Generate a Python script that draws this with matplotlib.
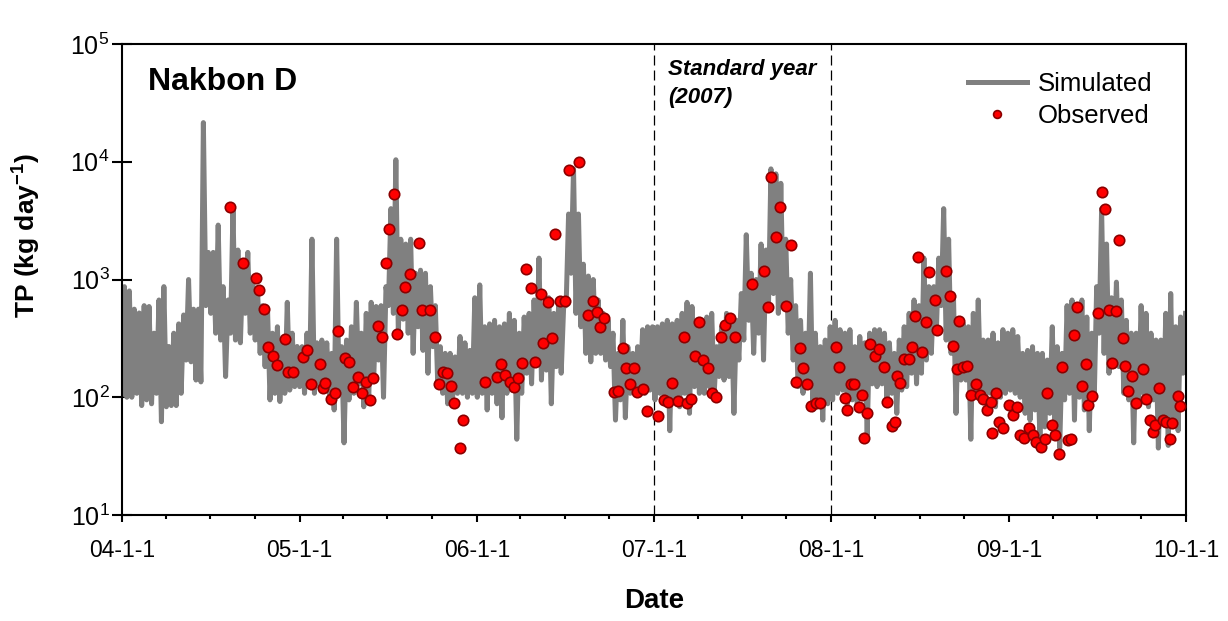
import matplotlib
matplotlib.use("Agg")
import matplotlib.pyplot as plt
import matplotlib.dates as mdates
import matplotlib.ticker as mticker
import numpy as np
import pandas as pd

plt.rcParams["font.family"] = ["Liberation Sans", "DejaVu Sans"]
plt.rcParams["mathtext.fontset"] = "custom"
plt.rcParams["mathtext.rm"] = "Liberation Sans"
plt.rcParams["mathtext.it"] = "Liberation Sans:italic"
plt.rcParams["mathtext.bf"] = "Liberation Sans:bold"

# simulated TP (kg/day), read off the chart as low/high pairs, ~10 days apart
sim_2004 = [106, 870, 100, 800, 100, 560, 108, 520, 85, 600, 95, 590, 88, 350, 108, 670,
            62, 870, 83, 270, 85, 350, 85, 420, 108, 500, 207, 1000, 200, 560, 140, 560,
            135, 21500, 600, 1700, 516, 1700, 350, 2900, 306, 870, 150, 670, 350, 4000,
            306, 1780, 290, 1285, 516, 1700, 350, 1000, 306, 760, 236, 600, 182, 560,
            95, 350, 108, 397, 92, 306, 108, 640, 115, 350, 123, 270]
sim_2005 = [123, 269, 108, 350, 123, 2200, 108, 290, 123, 306, 115, 290, 108, 236, 78, 2200,
            108, 269, 41, 306, 95, 397, 108, 640, 130, 350, 83, 516, 95, 640, 140, 590,
            207, 600, 100, 870, 600, 4000, 516, 10400, 350, 2200, 460, 2000, 350, 2200,
            236, 1130, 397, 1200, 250, 1130, 160, 870, 269, 600, 123, 269, 108, 236,
            88, 236, 100, 220, 108, 328, 108, 290, 100, 250, 108, 700]
sim_2006 = [100, 900, 108, 397, 78, 420, 108, 450, 88, 397, 67, 420, 108, 516, 115, 450,
            44, 350, 108, 480, 160, 516, 130, 670, 207, 1520, 140, 600, 170, 700, 88, 516,
            182, 640, 160, 590, 600, 3600, 1130, 8700, 516, 3600, 397, 1350, 236, 1070,
            200, 1000, 236, 670, 236, 516, 207, 450, 182, 350, 64, 236, 95, 450,
            67, 269, 108, 236, 108, 269, 115, 375, 108, 397, 115, 397]
sim_2007 = [95, 397, 108, 420, 95, 450, 52, 420, 95, 450, 83, 516, 108, 640, 73, 590,
            123, 397, 108, 450, 108, 480, 123, 516, 108, 269, 150, 397, 140, 516, 150, 480,
            73, 450, 207, 760, 306, 2400, 450, 1130, 236, 1000, 350, 2000, 207, 1780,
            600, 8700, 760, 7900, 516, 6560, 590, 2200, 350, 1000, 207, 600, 123, 450,
            108, 350, 123, 1130, 78, 350, 95, 269, 64, 306, 88, 397]
sim_2008 = [95, 450, 108, 375, 115, 350, 88, 375, 95, 269, 83, 328, 108, 290, 48, 350,
            130, 375, 123, 375, 130, 350, 95, 290, 108, 236, 73, 306, 115, 397, 123, 516,
            160, 670, 130, 600, 160, 1520, 207, 870, 236, 870, 350, 1520, 600, 4000,
            306, 2200, 236, 670, 73, 450, 140, 420, 140, 397, 44, 516, 108, 670,
            108, 306, 95, 306, 108, 350, 83, 290, 100, 375, 108, 350]
sim_2009 = [115, 375, 108, 328, 100, 236, 73, 250, 64, 269, 78, 236, 44, 236, 56, 207,
            73, 397, 60, 269, 37, 236, 95, 600, 108, 670, 64, 600, 100, 670, 78, 480,
            52, 350, 95, 870, 350, 4000, 236, 2000, 160, 700, 182, 950, 182, 670,
            108, 450, 95, 350, 41, 350, 95, 600, 108, 516, 83, 350, 95, 306,
            37, 306, 64, 516, 39, 760, 64, 397, 52, 480, 160, 516]

# observed TP: days since 2004-01-01 and value
obs_day = [222, 249, 277, 283, 293, 300, 311, 319, 335, 342, 352, 373, 382, 389, 409, 415,
           418, 430, 438, 446, 460, 468, 475, 486, 494, 502, 510, 517, 527, 535, 543, 551,
           560, 566, 577, 584, 593, 611, 619, 634, 644, 653, 661, 669, 678, 685, 696, 703,
           748, 772, 781, 790, 800, 807, 815, 824, 832, 843, 850, 863, 867, 878, 886, 893,
           902, 912, 921, 941, 961, 970, 978, 985, 993, 1013, 1022, 1032, 1038, 1046, 1055,
           1062, 1074, 1081, 1105,
           1116, 1125, 1133, 1145, 1158, 1165, 1172, 1180, 1188, 1198, 1207, 1215, 1223,
           1234, 1242, 1252, 1262, 1297, 1322, 1331, 1338, 1347, 1355, 1369, 1378, 1388,
           1396, 1403, 1411, 1419, 1430, 1437,
           1472, 1478, 1489, 1494, 1501, 1509, 1519, 1525, 1528, 1535, 1542, 1551, 1560,
           1570, 1577, 1586, 1592, 1597, 1603, 1612, 1622, 1627, 1634, 1639, 1648, 1656,
           1662, 1674, 1680, 1697, 1705, 1713, 1720, 1724, 1732, 1740, 1750, 1759, 1767,
           1774, 1783, 1790, 1792, 1800, 1807, 1814,
           1827, 1836, 1843, 1851, 1858, 1869, 1877, 1884, 1893, 1902, 1906, 1915, 1922,
           1930, 1936, 1948, 1955, 1961, 1967, 1977, 1986, 1991, 1998, 2010, 2019, 2025,
           2033, 2040, 2047, 2055, 2062, 2066, 2072, 2081, 2088, 2103, 2109, 2118, 2125,
           2128, 2136, 2144, 2151, 2159, 2164, 2175, 2180]
obs_tp = [4150, 1390, 1036, 820, 558, 266, 225, 187, 311, 165, 165, 221, 252, 130, 193, 120,
          133, 97, 109, 363, 217, 200, 123, 148, 109, 136, 95, 145, 403, 327, 1390, 2700,
          5360, 347, 554, 868, 1106, 2055, 548, 554, 327, 130, 165, 162, 124, 90, 37, 64,
          136, 148, 193, 155, 136, 123, 145, 197, 1236, 852, 200, 748, 290, 648, 320, 2450,
          661, 661, 8570, 10000, 502, 661, 526, 395, 474, 111, 114, 263, 178, 130, 176,
          111, 118, 77, 69,
          94, 92, 133, 93, 327, 89, 96, 225, 433, 206, 177, 109, 100,
          327, 411, 469, 327, 910, 1188, 587, 7470, 2280, 4130, 596, 1976, 136,
          263, 178, 130, 85, 90, 90,
          268, 182, 99, 78, 130, 130, 82, 104, 45, 74, 281, 225, 255,
          180, 92, 57, 62, 151, 133, 212, 212, 266, 493, 1543, 241, 433,
          1165, 674, 375, 1188, 728, 274, 173, 447, 180, 185, 105, 129, 105,
          96, 78, 92, 50, 108, 62, 55,
          86, 70, 82, 48, 45, 55, 48, 42, 38, 44, 109, 58, 48,
          33, 180, 43, 44, 340, 587, 125, 193, 86, 102, 516, 5570, 3990,
          547, 197, 537, 2180, 320, 185, 114, 152, 90, 174, 96, 64, 51,
          58, 119, 64, 62, 44, 60, 103, 84]

sim_tp = np.concatenate([sim_2004, sim_2005, sim_2006, sim_2007, sim_2008, sim_2009])
sim_dates = pd.date_range("2004-01-01", "2009-12-31", periods=len(sim_tp))
obs_dates = pd.Timestamp("2004-01-01") + pd.to_timedelta(obs_day, unit="D")

fig = plt.figure(figsize=(12.28, 6.21), dpi=100)
ax = fig.add_axes([0.0993, 0.1707, 0.8665, 0.7584])

ax.plot(sim_dates, sim_tp, color="#808080", lw=3.6, label="Simulated", zorder=2)
ax.plot(obs_dates, obs_tp, "o", ms=7.5, mfc="#ff0000", mec="#8b0000", mew=1.2,
        label="Observed", zorder=3)

for d in ["2007-01-01", "2008-01-01"]:
    ax.axvline(pd.Timestamp(d), color="black", lw=0.9, ls=(0, (8, 4)), zorder=1)

ax.set_yscale("log")
ax.set_ylim(10, 1e5)
ax.set_xlim(pd.Timestamp("2004-01-01"), pd.Timestamp("2010-01-01"))
ax.yaxis.set_major_locator(mticker.LogLocator(base=10, numticks=10))
ax.yaxis.set_minor_locator(mticker.NullLocator())
ax.xaxis.set_major_locator(mdates.YearLocator())
ax.xaxis.set_minor_locator(mdates.MonthLocator(bymonth=[4, 7, 10]))


def date_fmt(v, pos):
    d = mdates.num2date(v)
    return f"{d:%y}-{d.month}-{d.day}"


ax.xaxis.set_major_formatter(mticker.FuncFormatter(date_fmt))

ax.tick_params(axis="x", which="major", direction="out", length=5, width=1.5,
               labelsize=16.5, pad=12)
ax.tick_params(axis="x", which="minor", direction="out", length=3, width=1.5)
ax.tick_params(axis="y", which="major", direction="inout", length=14, width=1.5,
               labelsize=18, pad=2)
for s in ax.spines.values():
    s.set_linewidth(1.5)

ax.set_xlabel("Date", fontsize=20, fontweight="bold")
ax.xaxis.set_label_coords(0.5, -0.155)
ax.set_ylabel(r"TP (kg day$^{\mathbf{-1}}$)", fontsize=19, fontweight="bold")
ax.yaxis.set_label_coords(-0.0742, 0.594)

ax.text(0.0244, 0.9034, "Nakbon D", transform=ax.transAxes, fontsize=23,
        fontweight="bold", va="baseline", ha="left")
ax.text(0.513, 0.934, "Standard year", transform=ax.transAxes, fontsize=16,
        fontweight="bold", style="italic", va="baseline", ha="left")
ax.text(0.513, 0.875, "(2007)", transform=ax.transAxes, fontsize=16,
        fontweight="bold", style="italic", va="baseline", ha="left")

ax.legend(loc="upper left", bbox_to_anchor=(0.785, 0.962), borderaxespad=0,
          frameon=False, fontsize=18.5, handlelength=2.3, handletextpad=0.45,
          labelspacing=0.3, markerscale=0.75)

fig.savefig("out.png", dpi=100)
